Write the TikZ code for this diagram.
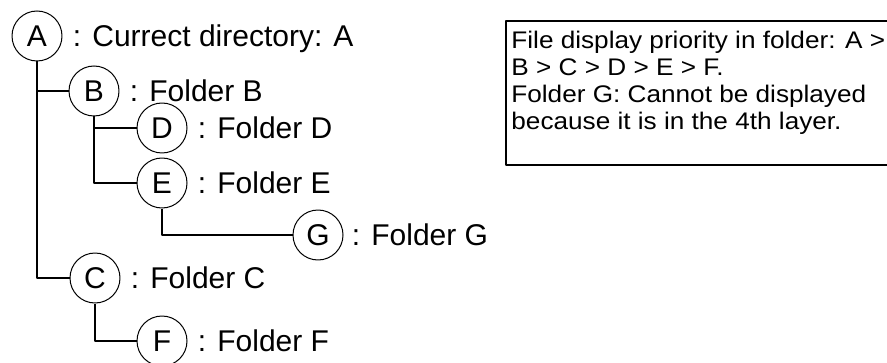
\documentclass[tikz,border=0pt]{standalone}
\usepackage{fontspec}
\setmainfont{Liberation Sans}
\newfontfamily\notefont[FakeStretch=1.09]{Liberation Sans}
\usetikzlibrary{positioning}

\begin{document}
\begin{tikzpicture}[x=0.5pt, y=-0.5pt, line join=round,
    folder/.style={draw, circle, line width=0.5pt, minimum size=25pt, inner sep=0pt, font=\fontsize{15}{18}\selectfont},
    caption/.style={inner sep=0pt, font=\fontsize{15}{18}\selectfont},
    branch/.style={line width=1pt}]

    \useasboundingbox (0,0) rectangle (887,363);

    % ==========================================
    % FOLDER TREE
    % ==========================================

    \node[folder] (A) at (37,36) {A};
    \node[folder] (B) at (94,91) {B};
    \node[folder] (D) at (162,128) {D};
    \node[folder] (E) at (162,183) {E};
    \node[folder] (G) at (318,235) {G};
    \node[folder] (C) at (95,278) {C};
    \node[folder] (F) at (162,341) {F};

    \node[caption, base right=5pt of A] (capA) {: Currect directory: A};
    \node[caption, base right=5pt of B] (capB) {: Folder B};
    \node[caption, base right=5pt of D] (capD) {: Folder D};
    \node[caption, base right=5pt of E] (capE) {: Folder E};
    \node[caption, base right=4pt of G] (capG) {: Folder G};
    \node[caption, base right=5pt of C] (capC) {: Folder C};
    \node[caption, base right=5pt of F] (capF) {: Folder F};

    % branches: down from the parent, then across to the child
    \draw[branch] (A.south) |- (B.west);
    \draw[branch] (A.south) |- (C.west);
    \draw[branch] (B.south) |- (D.west);
    \draw[branch] (B.south) |- (E.west);
    \draw[branch] (E.south) |- (G.west);
    \draw[branch] (C.south) |- (F.west);

    % ==========================================
    % NOTE BOX
    % ==========================================

    % right side runs past the edge of the picture
    \draw[line width=1pt] (506,21) rectangle (900,165);
    \node[inner sep=0pt, anchor=north west, align=left, font=\notefont\fontsize{12}{13.5}\selectfont] (note) at (511,30.5)
        {File display priority in folder: A >\\
         B > C > D > E > F.\\
         Folder G: Cannot be displayed\\
         because it is in the 4th layer.};

\end{tikzpicture}
\end{document}
